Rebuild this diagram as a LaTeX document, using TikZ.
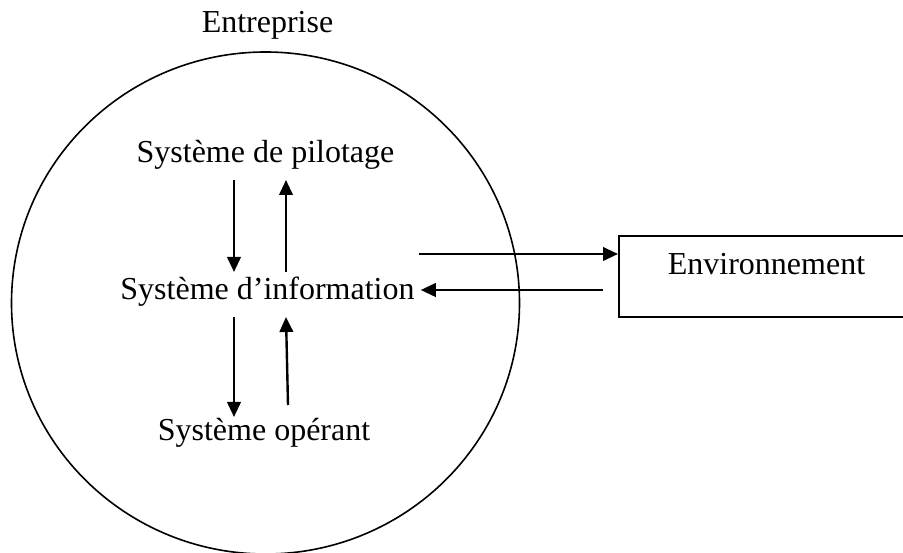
\documentclass[tikz,border=0pt]{standalone}
\usepackage{fontspec}
\setmainfont{Liberation Serif}
\usetikzlibrary{arrows.meta,shapes.geometric,calc}

\tikzset{
  lbl/.style={inner sep=0pt, anchor=base, font=\fontsize{32}{38}\selectfont},
  flow/.style={line width=2.4pt, -{Triangle[length=15pt,width=13.5pt]}},
  firm/.style={ellipse, draw, line width=1.6pt, inner sep=0pt},
  envbox/.style={rectangle, draw, line width=2pt, inner sep=0pt}
}

\begin{document}
\begin{tikzpicture}[x=1pt, y=-1pt]
  \useasboundingbox (0,0) rectangle (903,553);
  \clip (0,0) rectangle (903,553);

  % the company and its three subsystems
  \node[firm, minimum width=508pt, minimum height=502pt] (ent) at (265.5,303) {};
  \node[lbl] (entlbl) at (267.5,33) {Entreprise};
  \node[lbl] (pil) at (265.5,163) {Système de pilotage};
  \node[lbl] (info) at (267.5,300) {Système d’information};
  \node[lbl] (op) at (264,440) {Système opérant};

  % the environment, its right side runs off the page
  \node[envbox, minimum width=296pt, minimum height=81pt] (env) at (767,276.5) {};
  \node[lbl] (envlbl) at (766.5,275) {Environnement};

  % flows between the subsystems
  \draw[flow] ([shift={(-31.5,17)}]pil.base) -- ([shift={(-33.5,-28)}]info.base);
  \draw[flow] ([shift={(18.5,-28)}]info.base) -- ([shift={(20.5,17)}]pil.base);
  \draw[flow] ([shift={(-33.5,17)}]info.base) -- ([shift={(-30,-23)}]op.base);
  \draw[flow] ([shift={(24,-35)}]op.base) -- ([shift={(18.5,17)}]info.base);

  % exchanges with the environment
  \coordinate (outA) at ([yshift=22.5pt]env.west);
  \coordinate (outB) at ([yshift=-13.5pt]env.west);
  \draw[flow] ($(info.east |- outA)+(4,0)$) -- (outA);
  \draw[flow] ($(outB)+(-15,0)$) -- ($(info.east |- outB)+(6,0)$);
\end{tikzpicture}
\end{document}
